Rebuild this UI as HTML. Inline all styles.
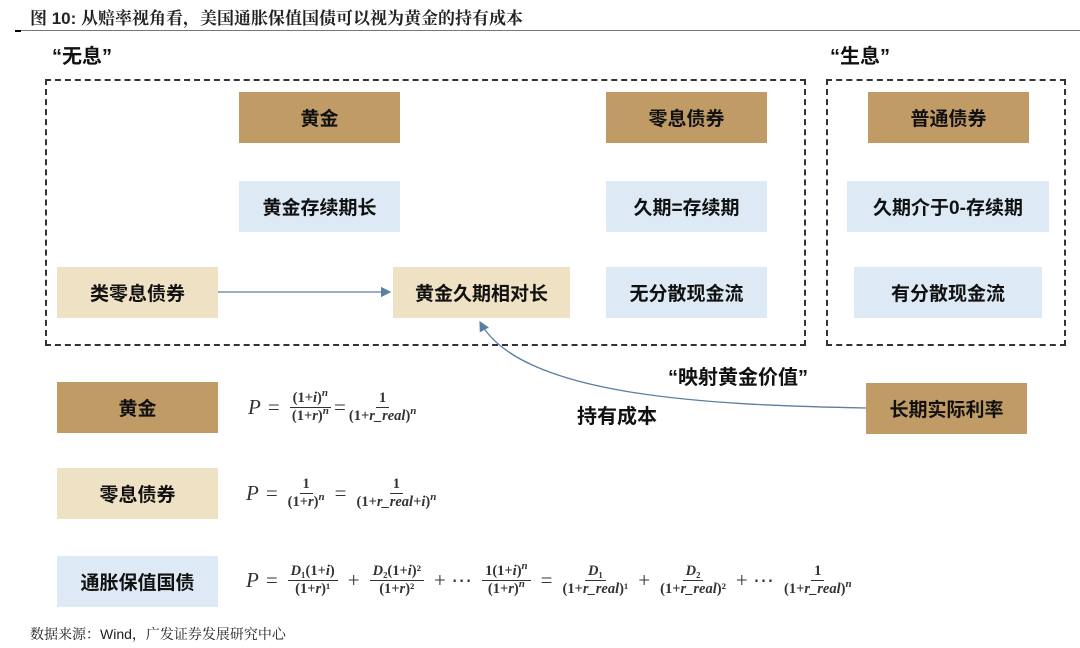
<!DOCTYPE html>
<html><head><meta charset="utf-8"><style>
body{margin:0;width:1080px;height:648px;background:#fff;position:relative;overflow:hidden;font-family:"Liberation Sans","Noto Sans CJK SC",sans-serif}
.b{position:absolute;display:flex;align-items:center;justify-content:center;font-weight:bold;font-size:19px;color:#111}
.g{background:#C19B66}.t{background:#EEE1C4}.u{background:#DDEAF6}
.d{position:absolute;border:2px dashed #333;box-sizing:border-box}
.lab{position:absolute;font-weight:bold;font-size:20px;color:#111}
.f{position:absolute;font-family:"Liberation Serif",serif;font-size:21px;display:flex;align-items:center;color:#333;white-space:nowrap}
.fr{display:inline-flex;flex-direction:column;align-items:center;font-size:14.5px;margin:0 3px;line-height:17px;font-weight:bold}
.fr span:first-child{border-bottom:1px solid #333;padding:0 3px}
.fr sup{font-size:11px;line-height:0}
.f i{font-style:italic}.op{margin:0 7px}
</style></head><body>
<div style="position:absolute;left:30px;top:4px;font-size:17px;font-weight:bold;font-family:'Liberation Sans','Noto Serif CJK SC',serif;color:#222">图 10: 从赔率视角看，美国通胀保值国债可以视为黄金的持有成本</div>
<div style="position:absolute;left:15px;top:30px;width:1065px;height:1px;background:#777"></div>
<div style="position:absolute;left:15px;top:30px;width:6px;height:2px;background:#000"></div>
<div class="lab" style="left:52px;top:40px">“无息”</div>
<div class="lab" style="left:830px;top:40px">“生息”</div>
<div class="d" style="left:45px;top:79px;width:761px;height:267px"></div>
<div class="d" style="left:826px;top:79px;width:240px;height:267px"></div>
<div class="b g" style="left:239px;top:92px;width:161px;height:51px">黄金</div>
<div class="b g" style="left:606px;top:92px;width:161px;height:51px">零息债券</div>
<div class="b g" style="left:868px;top:92px;width:161px;height:51px">普通债券</div>
<div class="b u" style="left:239px;top:181px;width:161px;height:51px">黄金存续期长</div>
<div class="b u" style="left:606px;top:181px;width:161px;height:51px">久期=存续期</div>
<div class="b u" style="left:847px;top:181px;width:202px;height:51px">久期介于0-存续期</div>
<div class="b t" style="left:57px;top:267px;width:161px;height:51px">类零息债券</div>
<div class="b t" style="left:393px;top:267px;width:177px;height:51px">黄金久期相对长</div>
<div class="b u" style="left:606px;top:267px;width:161px;height:51px">无分散现金流</div>
<div class="b u" style="left:854px;top:267px;width:188px;height:51px">有分散现金流</div>
<div class="lab" style="left:668px;top:361px">“映射黄金价值”</div>
<div class="lab" style="left:577px;top:400px">持有成本</div>
<div class="b g" style="left:866px;top:383px;width:161px;height:51px">长期实际利率</div>
<div class="b g" style="left:57px;top:382px;width:161px;height:51px">黄金</div>
<div class="b t" style="left:57px;top:468px;width:161px;height:51px">零息债券</div>
<div class="b u" style="left:57px;top:556px;width:161px;height:51px">通胀保值国债</div>
<svg style="position:absolute;left:0;top:0" width="1080" height="648">
<defs><marker id="a" markerWidth="8" markerHeight="8" refX="7" refY="4" orient="auto"><path d="M0,0L8,4L0,8z" fill="#5a7fa0"/></marker></defs>
<line x1="218" y1="292" x2="390" y2="292" stroke="#5a7fa0" stroke-width="1.3" marker-end="url(#a)"/>
<path d="M866,408 C700,405 520,395 480,322" fill="none" stroke="#5a7fa0" stroke-width="1.3" marker-end="url(#a)"/>
</svg>
<div class="f" style="left:248px;top:390px"><i>P</i><span class="op">=</span><span class="fr"><span>(1+<i>i</i>)<sup><i>n</i></sup></span><span>(1+<i>r</i>)<sup><i>n</i></sup></span></span>=<span class="fr"><span>1</span><span>(1+<i>r_real</i>)<sup><i>n</i></sup></span></span></div>
<div class="f" style="left:246px;top:476px"><i>P</i><span class="op">=</span><span class="fr"><span>1</span><span>(1+<i>r</i>)<sup><i>n</i></sup></span></span><span class="op">=</span><span class="fr"><span>1</span><span>(1+<i>r_real</i>+<i>i</i>)<sup><i>n</i></sup></span></span></div>
<div class="f" style="left:246px;top:563px"><i>P</i><span class="op">=</span><span class="fr"><span><i>D</i>₁(1+<i>i</i>)</span><span>(1+<i>r</i>)¹</span></span><span class="op">+</span><span class="fr"><span><i>D</i>₂(1+<i>i</i>)²</span><span>(1+<i>r</i>)²</span></span><span class="op">+ ⋯</span><span class="fr"><span>1(1+<i>i</i>)<sup><i>n</i></sup></span><span>(1+<i>r</i>)<sup><i>n</i></sup></span></span><span class="op">=</span><span class="fr"><span><i>D</i>₁</span><span>(1+<i>r_real</i>)¹</span></span><span class="op">+</span><span class="fr"><span><i>D</i>₂</span><span>(1+<i>r_real</i>)²</span></span><span class="op">+ ⋯</span><span class="fr"><span>1</span><span>(1+<i>r_real</i>)<sup><i>n</i></sup></span></span></div>
<div style="position:absolute;left:30px;top:624px;font-size:14px;color:#222;font-family:'Liberation Sans','Noto Serif CJK SC',serif">数据来源：Wind，广发证券发展研究中心</div>
</body></html>
